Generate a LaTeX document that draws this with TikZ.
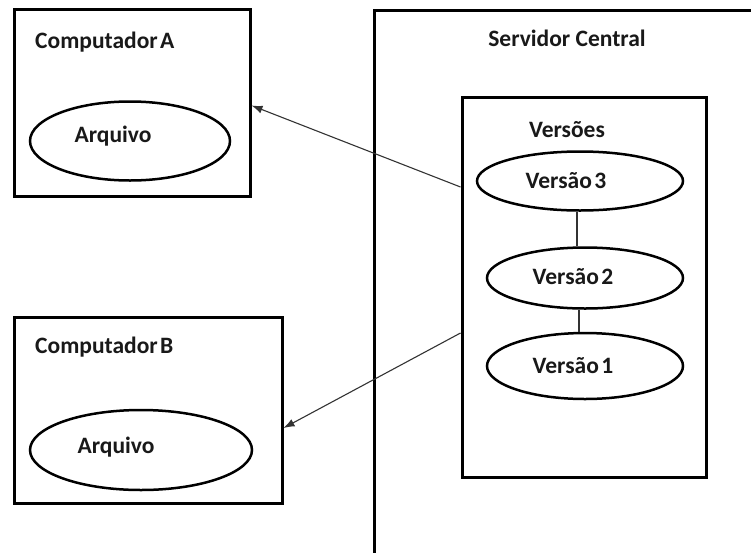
\documentclass[tikz,border=0pt]{standalone}
\usepackage{fontspec}
\setmainfont{Carlito}
\usetikzlibrary{shapes.geometric,arrows.meta}
\newcommand{\nsp}{\hspace{2.5pt}}
\tikzset{
  frame/.style={draw=black, line width=3pt, rectangle, inner sep=0pt},
  oval/.style={draw=black, line width=2.5pt, ellipse, inner sep=0pt},
  txt/.style={font=\fontsize{23.5}{26}\selectfont\bfseries, inner sep=0pt, text=black!90},
  link/.style={draw=black!80, line width=1.1pt},
  arr/.style={link, -{Latex[length=11pt,width=8pt]}}
}
\begin{document}
\begin{tikzpicture}[x=1pt,y=-1pt]
\useasboundingbox (0,0) rectangle (751,552);
\fill[white] (0,0) rectangle (751,552);
% Computador A
\node[frame, minimum width=236pt, minimum height=187pt] (compA) at (132,102.5) {};
\node[txt, anchor=west] (tA) at (35,42) {Computador\nsp A};
\node[oval, minimum width=200pt, minimum height=79pt] (eA) at (130,141) {};
\node[txt] (fA) at (113,136) {Arquivo};
% Computador B
\node[frame, minimum width=268pt, minimum height=186pt] (compB) at (148,410) {};
\node[txt, anchor=west] (tB) at (35,347) {Computador\nsp B};
\node[oval, minimum width=222pt, minimum height=80pt] (eB) at (141,450) {};
\node[txt] (fB) at (116,447) {Arquivo};
% Servidor Central
\begin{scope}
\clip (0,0) rectangle (751,552);
\node[frame, minimum width=440pt, minimum height=600pt, anchor=north west] (srv) at (373,9) {};
\end{scope}
\node[txt] (tS) at (567,38) {Servidor Central};
% Versoes
\node[frame, minimum width=244pt, minimum height=380pt] (vers) at (584,287) {};
\node[txt] (tV) at (567,130) {Versões};
\node[oval, minimum width=206pt, minimum height=59pt] (v3) at (580,181) {};
\node[txt] (t3) at (566,181) {Versão\nsp 3};
\node[oval, minimum width=196pt, minimum height=61pt] (v2) at (585,278) {};
\node[txt] (t2) at (573,277) {Versão\nsp 2};
\node[oval, minimum width=196pt, minimum height=66pt] (v1) at (585,366) {};
\node[txt] (t1) at (573,366) {Versão\nsp 1};
\draw[link] (v3.south -| 577,0) -- (v2.north -| 577,0);
\draw[link] (v2.south -| 579,0) -- (v1.north -| 579,0);
% arrows
\draw[arr] ([yshift=100pt]vers.west) -- ([yshift=-3pt]compA.east);
\draw[arr] ([yshift=-46pt]vers.west) -- ([yshift=-18pt]compB.east);
\end{tikzpicture}
\end{document}
